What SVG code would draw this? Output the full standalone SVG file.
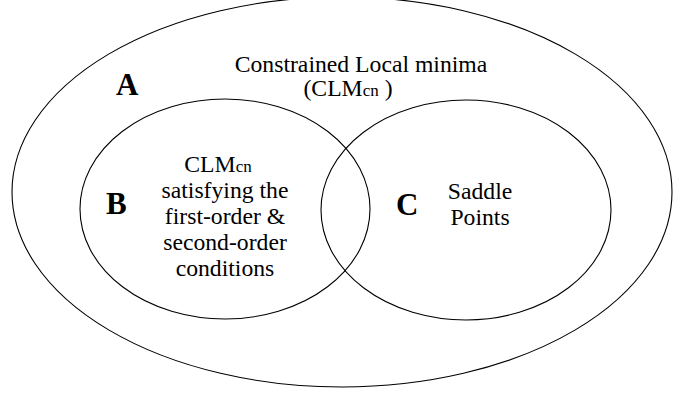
<svg xmlns="http://www.w3.org/2000/svg" width="673" height="396" viewBox="0 0 673 396">
<style>
.shape{fill:none;stroke:#000;stroke-width:1.1}
text{font-family:'Liberation Serif','Times New Roman',serif;fill:#000}
.t{font-size:23.7px;text-anchor:middle}
.sub{font-size:17px}
.lbl{font-size:31px;font-weight:bold}
</style>
<rect width="673" height="396" fill="#fff"/>
<g id="A">
<ellipse class="shape" cx="342" cy="192" rx="330" ry="195"/>
<text class="t" x="361" y="72">Constrained Local minima</text>
<text class="t" x="348" y="96">(CLM<tspan class="sub">cn</tspan> )</text>
<text class="lbl" x="116" y="95">A</text>
</g>
<g id="B">
<ellipse class="shape" cx="225" cy="209" rx="145" ry="110"/>
<text class="t" x="218" y="172">CLM<tspan class="sub">cn</tspan></text>
<text class="t" x="225" y="198">satisfying the</text>
<text class="t" x="225" y="224">first-order &amp;</text>
<text class="t" x="225" y="250">second-order</text>
<text class="t" x="225" y="276">conditions</text>
<text class="lbl" x="106" y="214">B</text>
</g>
<g id="C">
<ellipse class="shape" cx="466" cy="210" rx="145" ry="110"/>
<text class="t" x="480" y="199">Saddle</text>
<text class="t" x="480" y="225">Points</text>
<text class="lbl" x="396" y="215">C</text>
</g>
<g id="connectors"/>
</svg>
